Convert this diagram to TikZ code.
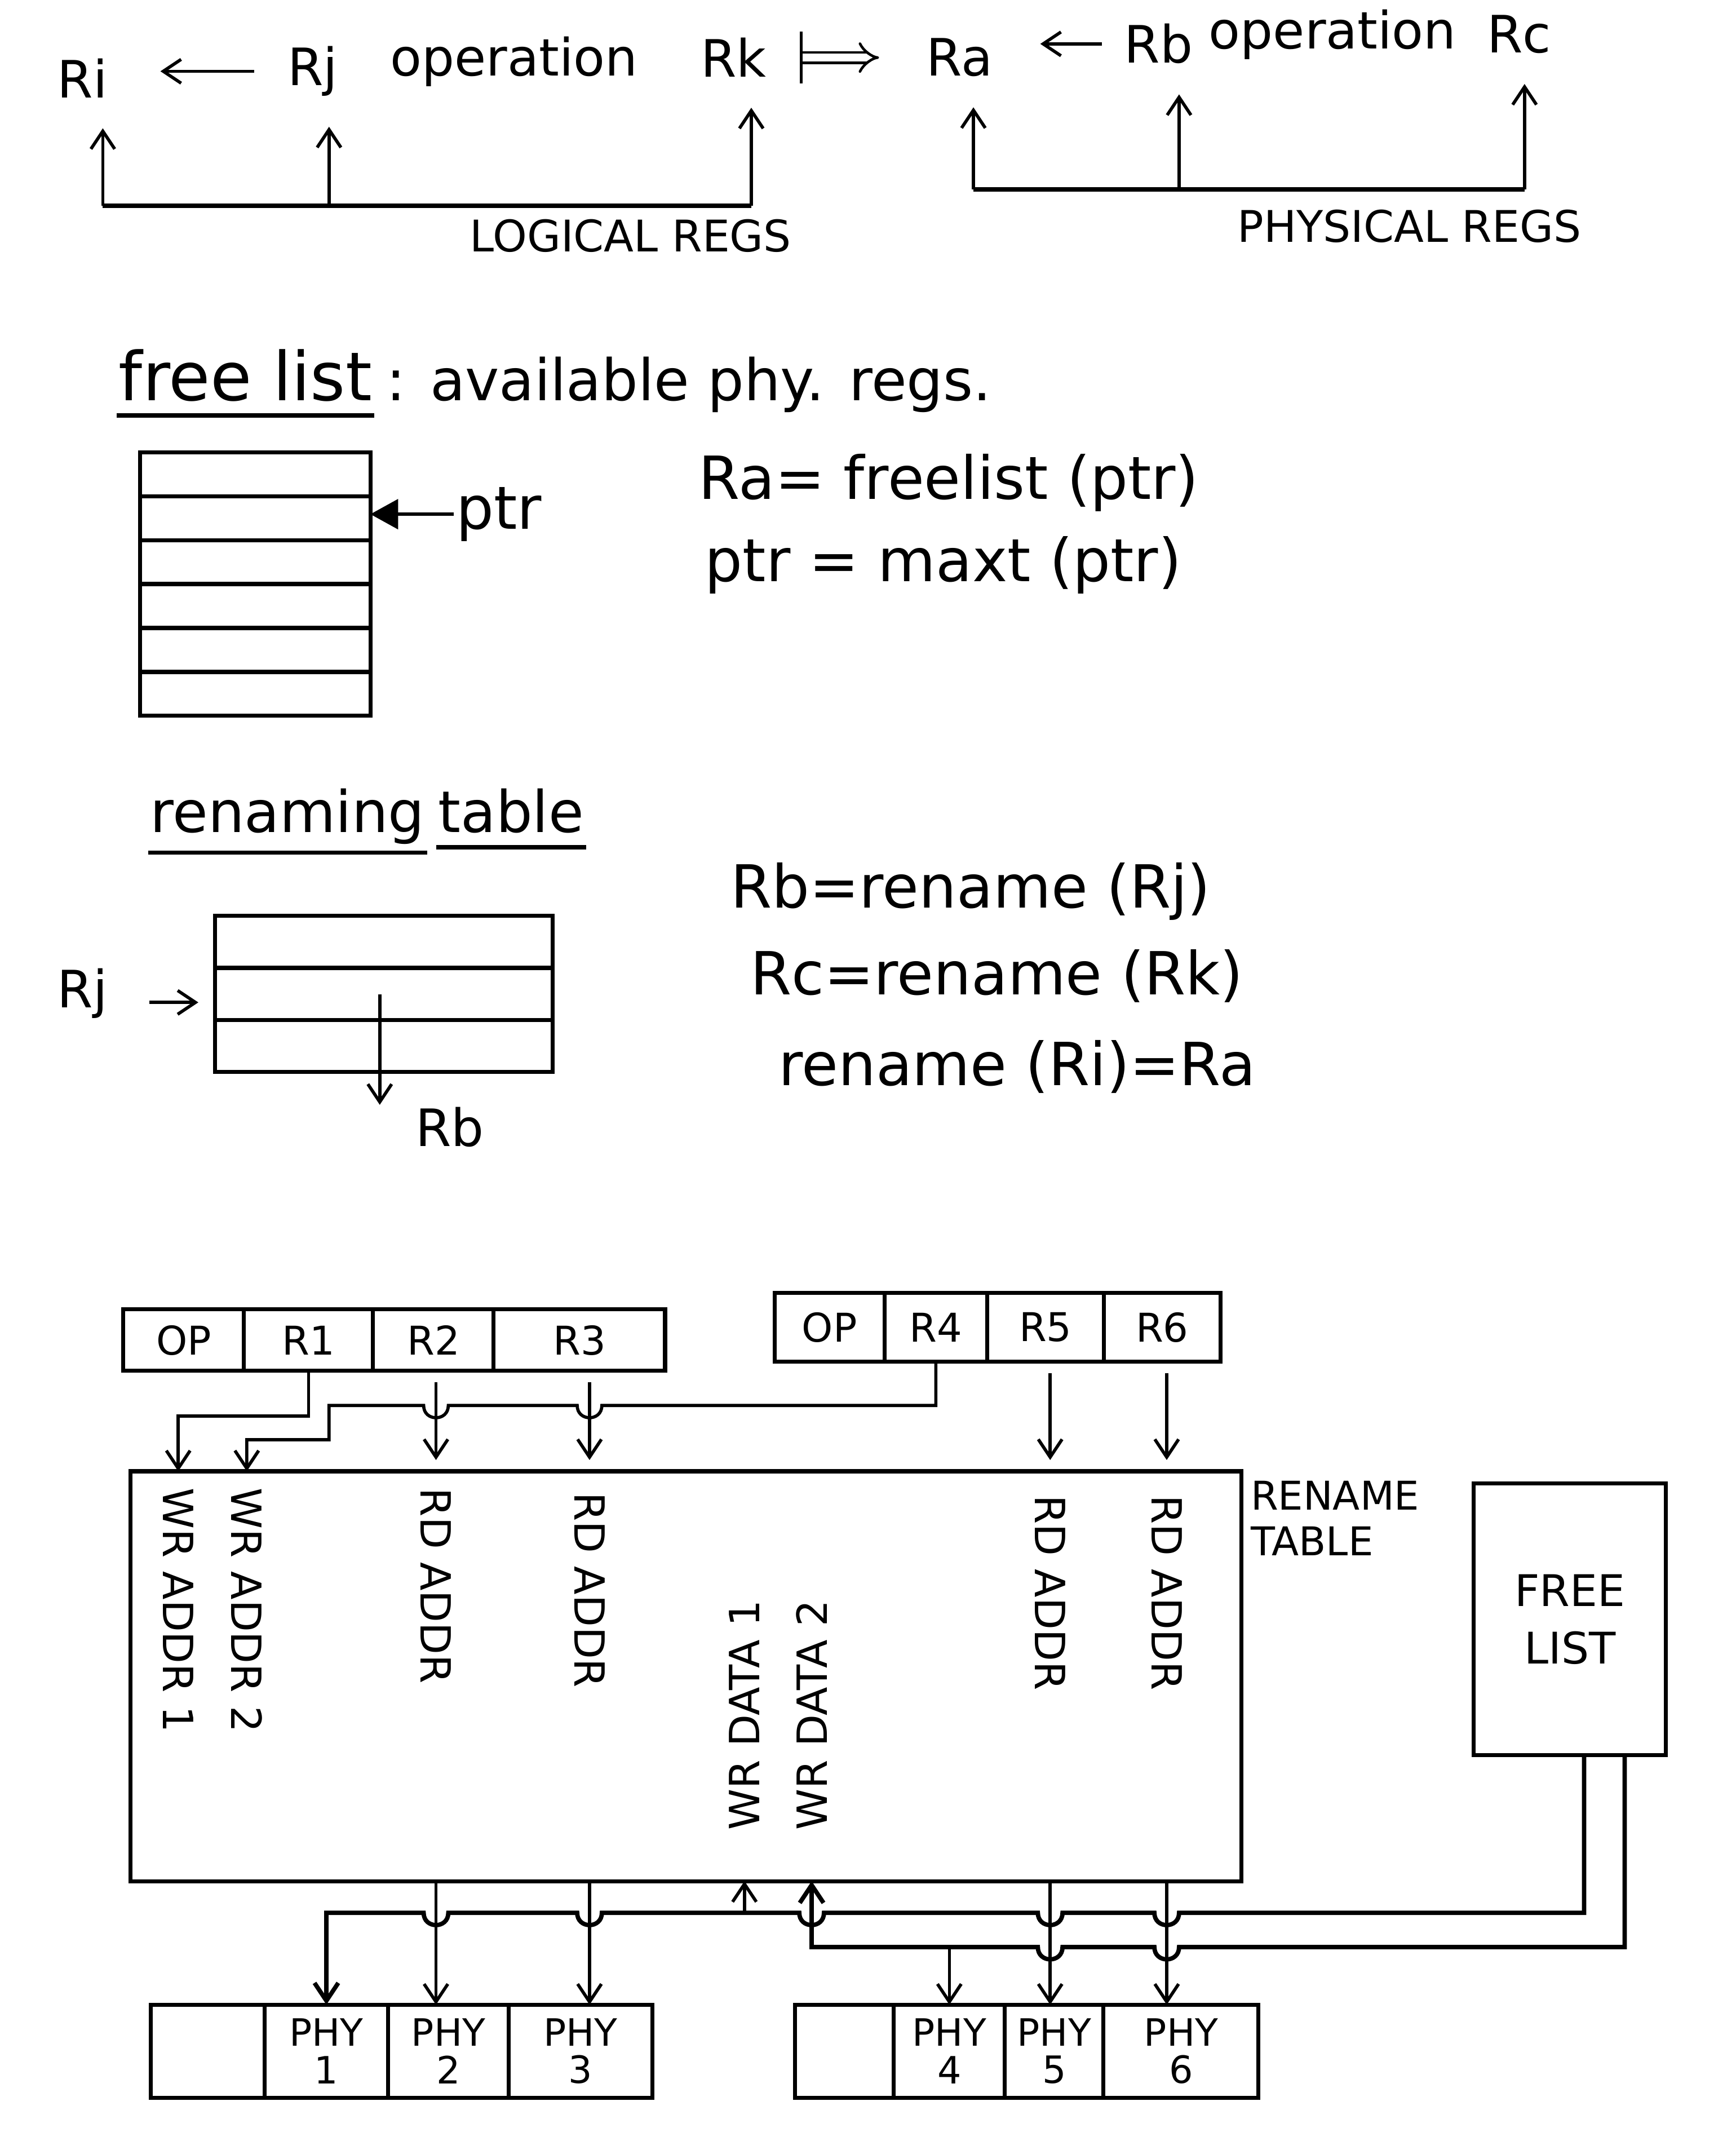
\documentclass[tikz,border=0pt]{standalone}
\usepackage{fontspec}
\setmainfont{DejaVu Sans}
\usepackage{tikz}
\usetikzlibrary{arrows.meta, positioning, calc}

\newcommand{\wirehop}[2]{-- ($(#1 |- #2)+(9,0)$) to[out=-90, in=-90, looseness=1.7] ($(#1 |- #2)+(-9,0)$)}

\begin{document}
\begin{tikzpicture}[
      x=0.02433cm,
      y=-0.02433cm,
      hand/.style={font=\fontsize{26}{30}\selectfont, inner sep=1pt},
      title/.style={font=\fontsize{29}{34}\selectfont, inner sep=1pt},
      formula/.style={font=\fontsize{30}{34}\selectfont, inner sep=1pt},
      regs/.style={font=\fontsize{22}{26}\selectfont, inner sep=1pt},
      port/.style={font=\fontsize{21}{24}\selectfont, inner sep=0pt},
      block/.style={draw, line width=2pt, outer sep=0pt, inner sep=0pt},
      cell/.style={block, font=\fontsize{20}{22}\selectfont},
      opfield/.style={cell, minimum height=1.09cm},
      opfieldb/.style={cell, minimum height=1.22cm},
      phyfield/.style={cell, minimum height=1.65cm, align=center,
         font=\fontsize{19}{19}\selectfont},
      wire/.style={line width=1.6pt},
      bus/.style={line width=2.2pt},
      arr/.style={wire, -{Straight Barb[length=9pt, width=12pt]}},
      fetch/.style={arr, shorten <=0.2cm, shorten >=0.2cm},
      regup/.style={arr, shorten >=0.5cm}
   ]
   \useasboundingbox (0,0) rectangle (1266,1568);

   \node[hand] (Ri) at (60,57) {Ri};
   \node[hand] (Rj) at (228,52) {Rj};
   \node[hand] (opl) at (375,45) {operation};
   \node[hand] (Rk) at (535,42) {Rk};
   \node[hand] (Ra) at (700,42) {Ra};
   \node[hand] (Rb) at (845,32) {Rb};
   \node[hand] (opp) at (972,25) {operation};
   \node[hand] (Rc) at (1108,25) {Rc};
   \draw[arr, shorten <=0.55cm, shorten >=0.9cm] (Rj.west) -- (Rj.west -| Ri.east);
   \draw[arr, shorten <=0.35cm, shorten >=0.8cm] (Rb.west) -- (Rb.west -| Ra.east);
   \draw[line width=1.3pt, double, double distance=4pt,
      {Bar[width=26pt, line width=1.6pt]}-{Implies},
      shorten <=0.55cm, shorten >=0.8cm] (Rk.east) -- (Ra.west);

   \coordinate (lgA) at (75,150);
   \coordinate (lgB) at (240,150);
   \coordinate (lgC) at (548,150);
   \draw[bus] (lgA) -- (lgC);
   \draw[regup] (lgA) -- (lgA |- Ri.south);
   \draw[regup] (lgB) -- (lgB |- Rj.south);
   \draw[regup] (lgC) -- (lgC |- Rk.south);
   \node[regs] (lgname) at (460,172) {LOGICAL REGS};

   \coordinate (phA) at (710,138);
   \coordinate (phB) at (860,138);
   \coordinate (phC) at (1112,138);
   \draw[bus] (phA) -- (phC);
   \draw[regup] (phA) -- (phA |- Ra.south);
   \draw[regup] (phB) -- (phB |- Rb.south);
   \draw[regup] (phC) -- (phC |- Rc.south);
   \node[regs] (phname) at (1028,165) {PHYSICAL REGS};

   \node[title, font=\fontsize{34}{40}\selectfont, anchor=base west] (flword) at (85,292) {free list};
   \node[title, anchor=base west] (flnote) at (flword.base east) {\,: available phy. regs.};
   \draw[bus] ([yshift=-6pt]flword.south west) -- ([yshift=-6pt]flword.south east);

   \node[block, minimum width=4.09cm, minimum height=4.67cm, anchor=north west] (fl) at (102,330) {};
   \foreach \k in {1,...,5}
      \draw[bus] ($(fl.north west)!\k/6!(fl.south west)$) -- ($(fl.north east)!\k/6!(fl.south east)$);
   \node[formula] (ptr) at (364,375) {ptr};
   \draw[wire, -{Triangle[length=14pt, width=15pt]}] (ptr.west) -- (ptr.west -| fl.east);
   \node[formula] (eqfree) at (692,352) {Ra= freelist (ptr)};
   \node[formula] (eqnext) at (688,412) {ptr = maxt (ptr)};

   \node[title, anchor=base west] (rnword) at (108,607) {renaming};
   \node[title, anchor=base west] (tbword) at (318,607) {table};
   \draw[bus] ([yshift=-3pt]rnword.south west) -- ([yshift=-3pt]rnword.south east);
   \draw[bus] ([yshift=-6pt]tbword.south west) -- ([yshift=-6pt]tbword.south east);

   \node[block, minimum width=5.99cm, minimum height=2.77cm, anchor=north west] (rnt) at (157,668) {};
   \foreach \k in {1,2}
      \draw[bus] ($(rnt.north west)!\k/3!(rnt.south west)$) -- ($(rnt.north east)!\k/3!(rnt.south east)$);
   \node[hand, anchor=base west] (rjin) at (40,735) {Rj};
   \draw[arr, shorten <=0.7cm, shorten >=0.3cm] (rjin.mid east) -- (rjin.mid east -| rnt.west);
   \coordinate (rjrow) at (277,725);
   \node[hand] (rbout) at (328,822) {Rb};
   \draw[arr] (rjrow) -- (rjrow |- rbout.north);
   \node[formula] (eqrb) at (708,650) {Rb=rename (Rj)};
   \node[formula] (eqrc) at (727,712) {Rc=rename (Rk)};
   \node[formula] (eqra) at (742,778) {rename (Ri)=Ra};

   \node[opfield, minimum width=2.14cm, anchor=north west] (opA) at (90,955) {OP};
   \node[opfield, minimum width=2.29cm, right=0pt of opA] (R1) {R1};
   \node[opfield, minimum width=2.14cm, right=0pt of R1] (R2) {R2};
   \node[opfield, minimum width=3.04cm, right=0pt of R2] (R3) {R3};
   \node[opfieldb, minimum width=1.95cm, anchor=north west] (opB) at (565,943) {OP};
   \node[opfieldb, minimum width=1.82cm, right=0pt of opB] (R4) {R4};
   \node[opfieldb, minimum width=2.07cm, right=0pt of R4] (R5) {R5};
   \node[opfieldb, minimum width=2.07cm, right=0pt of R5] (R6) {R6};

   \node[block, minimum width=19.71cm, minimum height=7.27cm, anchor=north west] (rt) at (95,1073) {};
   \node[font=\fontsize{20}{23}\selectfont, align=left, anchor=north west, inner sep=0pt] (rtname)
      at (912,1080) {RENAME\\TABLE};
   \node[block, minimum width=3.41cm, minimum height=4.82cm, anchor=north west, align=center,
      font=\fontsize{22}{29}\selectfont] (flb) at (1075,1082) {FREE\\LIST};

   \node[port, rotate=-90, anchor=west] (wa1) at (130,1085) {WR ADDR 1};
   \node[port, rotate=-90, anchor=west] (wa2) at (180,1085) {WR ADDR 2};
   \node[port, rotate=-90, anchor=west] (ra1) at (318,1085) {RD ADDR};
   \node[port, rotate=-90, anchor=west] (ra2) at (430,1088) {RD ADDR};
   \node[port, rotate=90, anchor=west] (wd1) at (543,1335) {WR DATA 1};
   \node[port, rotate=90, anchor=west] (wd2) at (592,1335) {WR DATA 2};
   \node[port, rotate=-90, anchor=west] (ra3) at (766,1090) {RD ADDR};
   \node[port, rotate=-90, anchor=west] (ra4) at (851,1090) {RD ADDR};

   \coordinate (busR) at (0,1025);
   \draw[arr] (R1.south) -- ++(0,33) -| (wa1.west |- rt.north);
   \draw[arr] (R4.south) -- (R4.south |- busR) \wirehop{ra2.west}{busR} \wirehop{ra1.west}{busR}
      -- (240,1025) -- (240,1050) -| (wa2.west |- rt.north);
   \draw[fetch] (ra1.west |- R2.south) -- (ra1.west |- rt.north);
   \draw[fetch] (ra2.west |- R3.south) -- (ra2.west |- rt.north);
   \draw[fetch] (ra3.west |- R5.south) -- (ra3.west |- rt.north);
   \draw[fetch] (ra4.west |- R6.south) -- (ra4.west |- rt.north);

   \node[phyfield, minimum width=2.02cm, anchor=north west] (eA) at (110,1462) {};
   \node[phyfield, minimum width=2.19cm, right=0pt of eA] (P1) {PHY\\1};
   \node[phyfield, minimum width=2.14cm, right=0pt of P1] (P2) {PHY\\2};
   \node[phyfield, minimum width=2.55cm, right=0pt of P2] (P3) {PHY\\3};
   \node[phyfield, minimum width=1.75cm, anchor=north west] (eB) at (580,1462) {};
   \node[phyfield, minimum width=1.97cm, right=0pt of eB] (P4) {PHY\\4};
   \node[phyfield, minimum width=1.75cm, right=0pt of P4] (P5) {PHY\\5};
   \node[phyfield, minimum width=2.75cm, right=0pt of P5] (P6) {PHY\\6};

   \draw[arr] (ra1.west |- rt.south) -- (ra1.west |- P2.north);
   \draw[arr] (ra2.west |- rt.south) -- (ra2.west |- P3.north);
   \draw[arr] (ra3.west |- rt.south) -- (ra3.west |- P5.north);
   \draw[arr] (ra4.west |- rt.south) -- (ra4.west |- P6.north);

   \coordinate (busA) at (0,1395);
   \coordinate (busB) at (0,1420);
   \draw[arr, line width=2.2pt] ([xshift=0.25cm]flb.south) -- ([xshift=0.25cm]flb.south |- busA)
      \wirehop{ra4.west}{busA} \wirehop{ra3.west}{busA} \wirehop{wd2.west}{busA}
      \wirehop{ra2.west}{busA} \wirehop{ra1.west}{busA} -| (P1.north);
   \draw[arr] (wd1.west |- busA) -- (wd1.west |- rt.south);
   \draw[arr, line width=2.2pt] ([xshift=0.97cm]flb.south) -- ([xshift=0.97cm]flb.south |- busB)
      \wirehop{ra4.west}{busB} \wirehop{ra3.west}{busB} -| (wd2.west |- rt.south);
   \draw[arr] (P4.north |- busB) -- (P4.north);
\end{tikzpicture}
\end{document}
